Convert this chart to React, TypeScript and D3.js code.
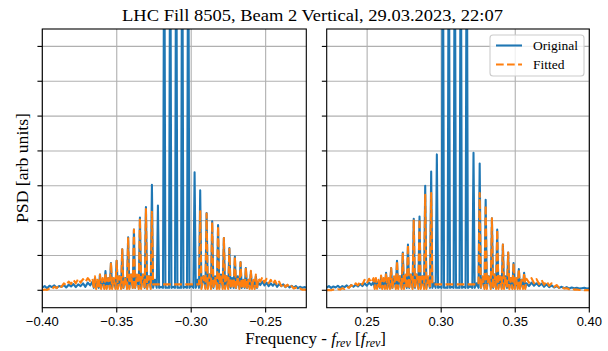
import React from 'react';
import * as d3 from 'd3';

const TITLE = 'LHC Fill 8505, Beam 2 Vertical, 29.03.2023, 22:07';
const Y_LABEL = 'PSD [arb units]';
const LEGEND_LABELS = ['Original', 'Fitted'];
const LEFT_TICKS = [-0.4, -0.35, -0.3, -0.25];
const RIGHT_TICKS = [0.25, 0.3, 0.35, 0.4];
const Y_TICKS = [0, 1, 2, 3, 4, 5, 6, 7];
const LEFT_DOMAIN: [number, number] = [-0.4, -0.2227];
const RIGHT_DOMAIN: [number, number] = [0.2227, 0.4];
const Y_DOMAIN: [number, number] = [-0.5, 7.5];

// ---- left panel (negative frequencies) ----
const LEFT_PEAK_FREQ = [
  -0.36463, -0.36128, -0.35758, -0.35389, -0.35007, -0.34631, -0.34235, -0.33846, -0.33443, -0.3304,
  -0.32638, -0.32235, -0.31812, -0.31409, -0.31007, -0.30604, -0.30201, -0.29772, -0.29396, -0.28966,
  -0.28591, -0.28195, -0.27805, -0.27436, -0.27067, -0.26685, -0.26329, -0.25993, -0.25658,
];
const LEFT_ORIG_PEAK = [
  0.35, 0.45, 0.55, 0.78, 0.85, 1.18, 1.52, 1.74, 2.09, 2.39, 3.03, 2.43, 12, 12, 12, 12, 12,
  3.39, 2.87, 2.22, 1.98, 1.87, 1.5, 1.21, 0.97, 0.81, 0.64, 0.54, 0.4,
];
const LEFT_FIT_PEAK = [
  0.4, 0.45, 0.5, 0.8, 0.85, 1.18, 1.52, 1.74, 2.07, 2.33, 2.25, null, null, null, null, null, null, null,
  2.3, 2.2, 1.96, 1.84, 1.5, 1.19, 0.97, 0.8, 0.66, 0.56, 0.45,
];
const LEFT_ORIG_GAP = [
  0.25, 0.3, 0.35, 0.3, 0.4, 0.35, 0.45, 0.4, 0.45, 0.4, 0.3, 0.1, 0.08, 0.1, 0.08, 0.1, 0.15,
  0.3, 0.4, 0.45, 0.4, 0.45, 0.4, 0.35, 0.4, 0.3, 0.3, 0.25,
];
const LEFT_FIT_GAP = [
  0.3, 0.35, 0.35, 0.35, 0.4, 0.4, 0.45, 0.45, 0.45, 0.4, null, null, null, null, null, null, null, null,
  0.4, 0.45, 0.4, 0.45, 0.4, 0.35, 0.4, 0.35, 0.3, 0.3,
];
const LEFT_ORIG_HEAD = [0.08, 0.12, 0.06, 0.13, 0.09, 0.14, 0.07, 0.12, 0.1, 0.15, 0.08, 0.16, 0.11, 0.18, 0.09, 0.17, 0.12, 0.2, 0.1, 0.22, 0.14, 0.25];
const LEFT_FIT_HEAD = [0.0, 0.02, 0.01, 0.05, 0.03, 0.1, 0.06, 0.15, 0.1, 0.2, 0.14, 0.25, 0.18, 0.3, 0.2, 0.33, 0.22, 0.32, 0.24, 0.35, 0.26, 0.33];
const LEFT_ORIG_TAIL = [0.22, 0.15, 0.25, 0.14, 0.22, 0.12, 0.2, 0.13, 0.21, 0.1, 0.18, 0.12, 0.17, 0.09, 0.15, 0.08, 0.13, 0.07, 0.12, 0.06, 0.1, 0.07, 0.09, 0.08];
const LEFT_FIT_TAIL = [0.35, 0.25, 0.38, 0.22, 0.33, 0.2, 0.3, 0.18, 0.28, 0.15, 0.25, 0.12, 0.2, 0.1, 0.16, 0.07, 0.12, 0.05, 0.08, 0.03, 0.05, 0.02, 0.02, 0.01];

// ---- right panel (positive frequencies) ----
const RIGHT_PEAK_FREQ = [
  0.25592, 0.25941, 0.26278, 0.26621, 0.27017, 0.27408, 0.27757, 0.28147, 0.28537, 0.28921,
  0.29324, 0.29707, 0.30111, 0.30514, 0.30918, 0.31321, 0.31725, 0.32182, 0.32599, 0.33003,
  0.33426, 0.33783, 0.34166, 0.34523, 0.34886, 0.35242, 0.35599,
];
const RIGHT_ORIG_PEAK = [
  0.3, 0.4, 0.5, 0.64, 0.85, 1.08, 1.31, 2.05, 2.12, 3.0, 3.41, 3.9, 12, 12, 12, 12, 12,
  3.95, 3.64, 2.6, 2.07, 1.74, 1.31, 1.08, 0.78, 0.61, 0.5,
];
const RIGHT_FIT_PEAK = [
  0.35, 0.42, 0.5, 0.64, 0.85, 1.08, 1.31, 2.0, 2.05, 2.74, 2.79, null, null, null, null, null, null, null,
  2.79, 2.45, 2.07, 1.74, 1.31, 1.08, 0.78, 0.61, 0.5,
];
const RIGHT_ORIG_GAP = [
  0.25, 0.3, 0.3, 0.35, 0.4, 0.4, 0.45, 0.45, 0.4, 0.35, 0.2, 0.1, 0.08, 0.1, 0.08, 0.1, 0.12,
  0.2, 0.35, 0.4, 0.45, 0.4, 0.4, 0.35, 0.3, 0.3,
];
const RIGHT_FIT_GAP = [
  0.3, 0.35, 0.35, 0.4, 0.4, 0.45, 0.45, 0.45, 0.4, 0.4, null, null, null, null, null, null, null, null,
  0.4, 0.45, 0.45, 0.4, 0.4, 0.35, 0.35, 0.3,
];
const RIGHT_ORIG_HEAD = [0.08, 0.12, 0.07, 0.11, 0.08, 0.13, 0.07, 0.12, 0.09, 0.14, 0.08, 0.15, 0.1, 0.16, 0.11, 0.18, 0.12, 0.2, 0.13, 0.22, 0.15, 0.24];
const RIGHT_FIT_HEAD = [0.0, 0.01, 0.0, 0.02, 0.01, 0.03, 0.02, 0.06, 0.04, 0.1, 0.07, 0.15, 0.1, 0.2, 0.14, 0.25, 0.17, 0.3, 0.2, 0.33, 0.22, 0.35];
const RIGHT_ORIG_TAIL = [0.2, 0.12, 0.22, 0.13, 0.2, 0.12, 0.19, 0.1, 0.17, 0.09, 0.14, 0.08, 0.12, 0.07, 0.1, 0.06, 0.09, 0.05, 0.08, 0.06, 0.07, 0.05, 0.06, 0.07, 0.05, 0.06];
const RIGHT_FIT_TAIL = [0.33, 0.22, 0.35, 0.2, 0.32, 0.18, 0.3, 0.16, 0.26, 0.13, 0.2, 0.1, 0.15, 0.07, 0.1, 0.05, 0.06, 0.03, 0.04, 0.02, 0.02, 0.01, 0.01, 0.0, 0.01, 0.0];

const ORIG_FLOOR = 0.07;
const FIT_FLOOR = 0.04;
const FIT_FLAT = 0.17;
const HALF_WIDTH = 0.0008;

const BLUE = '#1f77b4';
const ORANGE = '#ff7f0e';
const LW = 2.08;
const DASH = '7.7,3.33';
const THIN = 1.1;
const TICK_LEN = 4.86;
const SERIF = '"Liberation Serif", "DejaVu Serif", serif';
const SANS = '"Liberation Sans", Arial, sans-serif';

type Pt = [number, number];

function buildSeries(
  domain: [number, number], freqs: number[], peaks: (number | null)[], gaps: (number | null)[],
  head: number[], tail: number[], floor: number, flat: number,
): Pt[] {
  const pts: Pt[] = [];
  const hw = HALF_WIDTH;
  const headEnd = freqs[0] - 2 * hw;
  head.forEach((v, i) => pts.push([domain[0] + (i * (headEnd - domain[0])) / (head.length - 1), v]));
  freqs.forEach((f, i) => {
    const h = peaks[i];
    const leftFlat = i > 0 && gaps[i - 1] == null;
    const rightFlat = i < freqs.length - 1 && gaps[i] == null;
    if (h != null) {
      pts.push([f - hw, leftFlat ? flat : floor]);
      pts.push([f, h]);
      pts.push([f + hw, rightFlat ? flat : floor]);
    }
    if (i < freqs.length - 1) {
      const g = gaps[i];
      pts.push([(f + freqs[i + 1]) / 2, g == null ? flat : g]);
    }
  });
  const tailStart = freqs[freqs.length - 1] + 2 * hw;
  tail.forEach((v, i) => pts.push([tailStart + (i * (domain[1] - tailStart)) / (tail.length - 1), v]));
  return pts;
}

const TOP = 29;
const BOTTOM = 307.7;

interface PanelProps {
  id: string;
  x0: number;
  x1: number;
  domain: [number, number];
  ticks: number[];
  orig: Pt[];
  fit: Pt[];
  legend?: boolean;
}

function Panel({ id, x0, x1, domain, ticks, orig, fit, legend }: PanelProps) {
  const x = d3.scaleLinear().domain(domain).range([x0, x1]);
  const y = d3.scaleLinear().domain(Y_DOMAIN).range([BOTTOM, TOP]);
  const line = d3.line<Pt>().x((d) => x(d[0])).y((d) => y(d[1]));
  const fmt = (v: number) => (v < 0 ? '\u2212' : '') + Math.abs(v).toFixed(2);
  return (
    <g>
      <defs>
        <clipPath id={id}>
          <rect x={x0} y={TOP} width={x1 - x0} height={BOTTOM - TOP} />
        </clipPath>
      </defs>
      <rect x={x0} y={TOP} width={x1 - x0} height={BOTTOM - TOP} fill="#fff" />
      {Y_TICKS.map((t) => (
        <line key={'gy' + t} x1={x0} x2={x1} y1={y(t)} y2={y(t)} stroke="#b0b0b0" strokeWidth={THIN} />
      ))}
      {ticks.map((t) => (
        <line key={'gx' + t} x1={x(t)} x2={x(t)} y1={TOP} y2={BOTTOM} stroke="#b0b0b0" strokeWidth={THIN} />
      ))}
      <g clipPath={`url(#${id})`}>
        <path d={line(orig) || ''} fill="none" stroke={BLUE} strokeWidth={LW} strokeLinejoin="round" />
        <path d={line(fit) || ''} fill="none" stroke={ORANGE} strokeWidth={LW} strokeDasharray={DASH} strokeLinejoin="round" />
      </g>
      <rect x={x0} y={TOP} width={x1 - x0} height={BOTTOM - TOP} fill="none" stroke="#000" strokeWidth={THIN} />
      {Y_TICKS.map((t) => (
        <line key={'ty' + t} x1={x0 - TICK_LEN} x2={x0} y1={y(t)} y2={y(t)} stroke="#000" strokeWidth={THIN} />
      ))}
      {ticks.map((t) => (
        <g key={'tx' + t}>
          <line x1={x(t)} x2={x(t)} y1={BOTTOM} y2={BOTTOM + TICK_LEN} stroke="#000" strokeWidth={THIN} />
          <text x={x(t)} y={326} textAnchor="middle" fontFamily={SANS} fontSize={13} fill="#000">
            {fmt(t)}
          </text>
        </g>
      ))}
      {legend && (
        <g>
          <rect x={490} y={35} width={94} height={41} rx={3} fill="#fff" fillOpacity={0.8} stroke="#cccccc" strokeWidth={THIN} />
          <line x1={496} x2={522} y1={45.5} y2={45.5} stroke={BLUE} strokeWidth={LW} />
          <line x1={496} x2={522} y1={64.5} y2={64.5} stroke={ORANGE} strokeWidth={LW} strokeDasharray={DASH} />
          <text x={533} y={50} fontFamily={SERIF} fontSize={13.5} fill="#000">{LEGEND_LABELS[0]}</text>
          <text x={533} y={69} fontFamily={SERIF} fontSize={13.5} fill="#000">{LEGEND_LABELS[1]}</text>
        </g>
      )}
    </g>
  );
}

export default function App() {
  const leftOrig = buildSeries(LEFT_DOMAIN, LEFT_PEAK_FREQ, LEFT_ORIG_PEAK, LEFT_ORIG_GAP, LEFT_ORIG_HEAD, LEFT_ORIG_TAIL, ORIG_FLOOR, ORIG_FLOOR);
  const leftFit = buildSeries(LEFT_DOMAIN, LEFT_PEAK_FREQ, LEFT_FIT_PEAK, LEFT_FIT_GAP, LEFT_FIT_HEAD, LEFT_FIT_TAIL, FIT_FLOOR, FIT_FLAT);
  const rightOrig = buildSeries(RIGHT_DOMAIN, RIGHT_PEAK_FREQ, RIGHT_ORIG_PEAK, RIGHT_ORIG_GAP, RIGHT_ORIG_HEAD, RIGHT_ORIG_TAIL, ORIG_FLOOR, ORIG_FLOOR);
  const rightFit = buildSeries(RIGHT_DOMAIN, RIGHT_PEAK_FREQ, RIGHT_FIT_PEAK, RIGHT_FIT_GAP, RIGHT_FIT_HEAD, RIGHT_FIT_TAIL, FIT_FLOOR, FIT_FLAT);
  return (
    <svg width={608} height={351} style={{ position: 'absolute', left: 0, top: 0, background: '#fff' }}>
      <rect x={0} y={0} width={608} height={351} fill="#fff" />
      <text x={312.5} y={21} textAnchor="middle" fontFamily={SERIF} fontSize={17} textLength={381} lengthAdjust="spacingAndGlyphs" fill="#000">
        {TITLE}
      </text>
      <text transform="translate(27.5,168) rotate(-90)" textAnchor="middle" fontFamily={SERIF} fontSize={17} textLength={110} lengthAdjust="spacingAndGlyphs" fill="#000">
        {Y_LABEL}
      </text>
      <Panel id="clipL" x0={42.3} x1={306.3} domain={LEFT_DOMAIN} ticks={LEFT_TICKS} orig={leftOrig} fit={leftFit} />
      <Panel id="clipR" x0={326.7} x1={589.3} domain={RIGHT_DOMAIN} ticks={RIGHT_TICKS} orig={rightOrig} fit={rightFit} legend />
      <text x={315.6} y={344} textAnchor="middle" fontFamily={SERIF} fontSize={17} fill="#000">
        Frequency - <tspan fontStyle="italic">f</tspan>
        <tspan fontStyle="italic" fontSize={12} dy={2.5}>rev</tspan>
        <tspan dy={-2.5}> [</tspan>
        <tspan fontStyle="italic">f</tspan>
        <tspan fontStyle="italic" fontSize={12} dy={2.5}>rev</tspan>
        <tspan dy={-2.5}>]</tspan>
      </text>
    </svg>
  );
}
